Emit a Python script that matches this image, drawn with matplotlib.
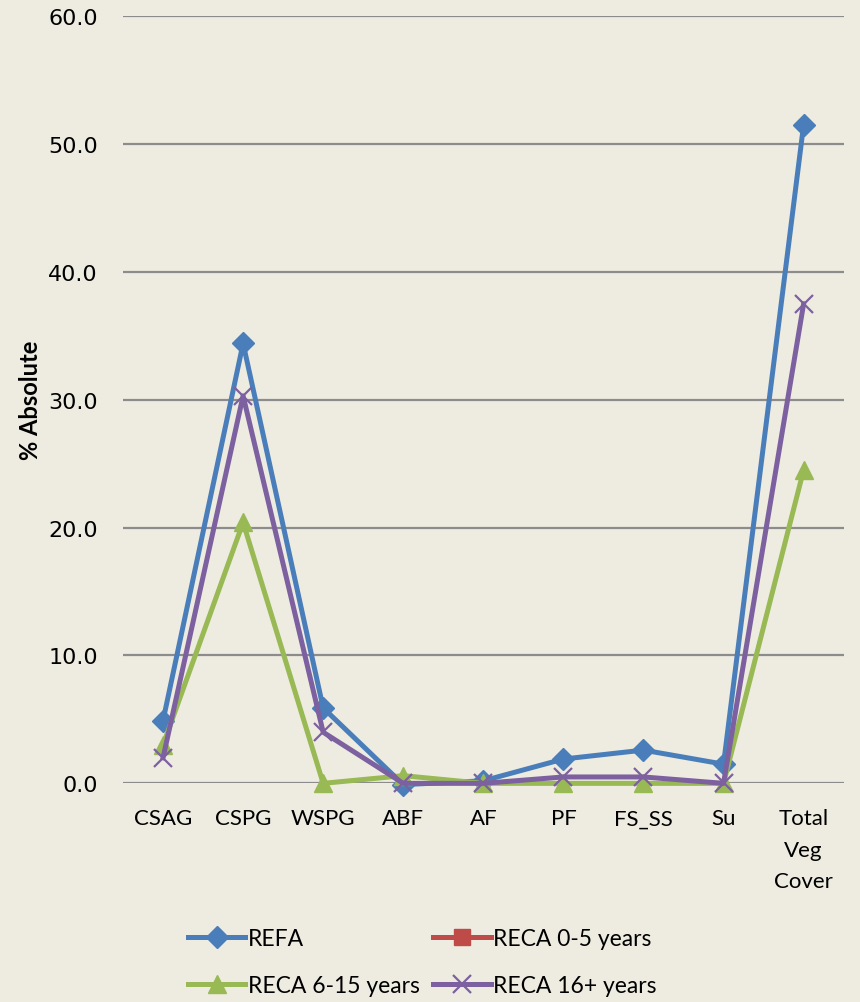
import numpy as np
import matplotlib
matplotlib.use("Agg")
import matplotlib.pyplot as plt

categories = ["CSAG", "CSPG", "WSPG", "ABF", "AF", "PF", "FS_SS", "Su", "Total\nVeg\nCover"]
refa = [4.9, 34.4, 5.9, -0.1, 0.2, 1.9, 2.6, 1.5, 51.5]
reca_0_5 = [np.nan] * 9
reca_6_15 = [3.0, 20.4, 0.0, 0.6, 0.0, 0.0, 0.0, 0.0, 24.5]
reca_16 = [2.0, 30.3, 4.0, 0.0, 0.0, 0.5, 0.5, 0.0, 37.5]
y_ticks = [0, 10, 20, 30, 40, 50, 60]

bg = "#EEECE1"
plt.rcParams["font.family"] = ["Lato", "DejaVu Sans"]

fig = plt.figure(figsize=(8.6, 10.03), dpi=100, facecolor=bg)
ax = fig.add_axes([0.143, 0.218, 0.838, 0.765], facecolor=bg)

x = np.arange(len(categories))
lw = 3.6
l1, = ax.plot(x, refa, color="#4A7EBB", lw=lw, marker="D", ms=11, label="REFA", zorder=3)
l2, = ax.plot(x, reca_0_5, color="#BE4B48", lw=lw, marker="s", ms=11, label="RECA 0-5 years", zorder=3)
l3, = ax.plot(x, reca_6_15, color="#98B954", lw=lw, marker="^", ms=13, label="RECA 6-15 years", zorder=3)
l4, = ax.plot(x, reca_16, color="#7D60A0", lw=lw, marker="x", ms=13, mew=1.6, label="RECA 16+ years", zorder=4)

ax.set_xlim(-0.5, len(categories) - 0.5)
ax.set_ylim(0, 60)
ax.set_yticks(y_ticks)
ax.set_yticklabels([f"{v:.1f}" for v in y_ticks], fontsize=16, family="DejaVu Sans")
ax.set_xticks(x)
ax.set_xticklabels(categories, fontsize=16, va="top", linespacing=1.72)
ax.tick_params(axis="both", length=0, colors="black")
ax.tick_params(axis="y", pad=18)
ax.tick_params(axis="x", pad=18)
ax.yaxis.grid(True, color="#8C8C8C", lw=1.6)
ax.set_axisbelow(True)
for s in ax.spines.values():
    s.set_visible(False)
for ln in (l1, l2, l3, l4):
    ln.set_clip_on(False)

ax.set_ylabel("% Absolute", fontsize=17, fontweight="bold")
ax.yaxis.set_label_coords(-0.113, 0.5)

fig.legend(handles=[l1, l3, l2, l4], loc="upper left", bbox_to_anchor=(188 / 860, 1 - 929 / 1003),
           ncol=2, frameon=False, fontsize=16.5, handlelength=2.5, handletextpad=0.1,
           columnspacing=0.6, labelspacing=1.12, borderpad=0, borderaxespad=0)

fig.savefig("out.png", dpi=100, facecolor=bg)
